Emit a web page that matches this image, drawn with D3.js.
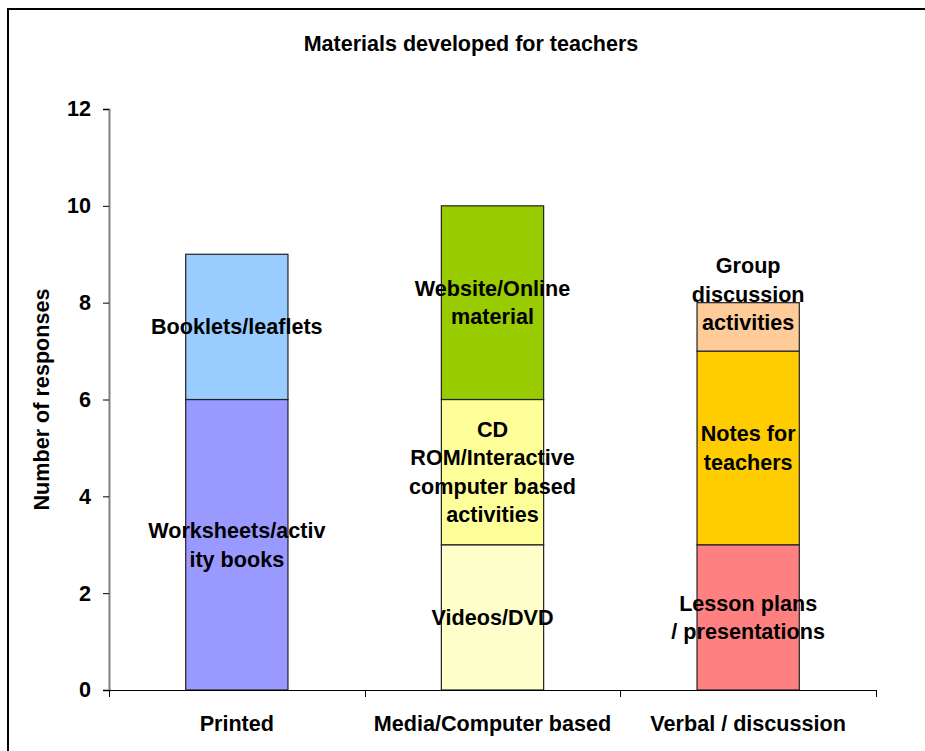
<!DOCTYPE html>
<html>
<head>
<meta charset="utf-8">
<script src="https://cdn.jsdelivr.net/npm/d3@7"></script>
<style>
  html, body { margin: 0; padding: 0; background: #fff; }
  svg { display: block; }
  text { font-family: "Liberation Sans", Arial, sans-serif; font-weight: bold; fill: #000; }
</style>
</head>
<body>
<svg id="chart" width="925" height="751"></svg>
<script>
// ---- data ----
const categories = ["Printed", "Media/Computer based", "Verbal / discussion"];
const yTicks = [0, 2, 4, 6, 8, 10, 12];
const title = "Materials developed for teachers";
const yTitle = "Number of responses";

// stacked segments per category, bottom to top
const printedValues = [6, 3];
const printedLabels = ["Worksheets/activ\nity books", "Booklets/leaflets"];
const printedColors = ["#9999FF", "#99CCFF"];

const mediaValues = [3, 3, 4];
const mediaLabels = ["Videos/DVD", "CD\nROM/Interactive\ncomputer based\nactivities", "Website/Online\nmaterial"];
const mediaColors = ["#FFFFCC", "#FFFF99", "#99CC00"];

const verbalValues = [3, 4, 1];
const verbalLabels = ["Lesson plans\n/ presentations", "Notes for\nteachers", "Group\ndiscussion\nactivities"];
const verbalColors = ["#FF8080", "#FFCC00", "#FFCC99"];

const groups = [
  { values: printedValues, labels: printedLabels, colors: printedColors },
  { values: mediaValues, labels: mediaLabels, colors: mediaColors },
  { values: verbalValues, labels: verbalLabels, colors: verbalColors }
];

// ---- layout ----
const svg = d3.select("#chart");
const plot = { left: 109, right: 876, top: 109, bottom: 690 };
const fs = 21.6, lineH = 28.5;

// frame
svg.append("rect").attr("x", 8).attr("y", 9).attr("width", 1000).attr("height", 1000)
  .attr("fill", "none").attr("stroke", "#000").attr("stroke-width", 2);

const x = d3.scaleBand().domain(categories).range([plot.left, plot.right])
  .paddingInner(0.6).paddingOuter(0.3);
const y = d3.scaleLinear().domain([0, 12]).range([plot.bottom, plot.top]);

// stack table
const keys = ["s0", "s1", "s2"];
const table = categories.map((c, i) => {
  const row = { cat: c };
  keys.forEach((k, j) => row[k] = groups[i].values[j] || 0);
  return row;
});
const stacked = d3.stack().keys(keys)(table);

// bars
stacked.forEach((layer, j) => {
  layer.forEach((d, i) => {
    if (d[1] - d[0] <= 0) return;
    svg.append("rect")
      .attr("x", x(d.data.cat))
      .attr("y", y(d[1]))
      .attr("width", x.bandwidth())
      .attr("height", y(d[0]) - y(d[1]))
      .attr("fill", groups[i].colors[j])
      .attr("stroke", "#222").attr("stroke-width", 1.2);
  });
});

// y axis
const yAxis = d3.axisLeft(y).tickValues(yTicks).tickSize(6).tickPadding(12);
const gy = svg.append("g").attr("transform", `translate(${plot.left},0)`).call(yAxis);
gy.select(".domain").attr("stroke", "#808080").attr("stroke-width", 2);
gy.selectAll(".tick line").attr("stroke", "#000");
gy.selectAll(".tick text").attr("font-size", fs).attr("font-family", "Liberation Sans, Arial, sans-serif")
  .attr("font-weight", "bold").attr("fill", "#000");

// x axis (category boundaries)
const gap = (x.step() - x.bandwidth()) / 2;
const bounds = categories.map(c => x(c) - gap).concat([plot.right]);
svg.append("line").attr("x1", plot.left - 6).attr("x2", plot.right)
  .attr("y1", plot.bottom + 0.5).attr("y2", plot.bottom + 0.5).attr("stroke", "#000");
bounds.forEach(b => {
  svg.append("line").attr("x1", Math.round(b) + 0.5).attr("x2", Math.round(b) + 0.5)
    .attr("y1", plot.bottom).attr("y2", plot.bottom + 7).attr("stroke", "#000");
});
categories.forEach(c => {
  svg.append("text").attr("x", x(c) + x.bandwidth() / 2).attr("y", 723)
    .attr("text-anchor", "middle").attr("dominant-baseline", "central")
    .attr("font-size", fs).text(c);
});

// segment labels
stacked.forEach((layer, j) => {
  layer.forEach((d, i) => {
    const lab = groups[i].labels[j];
    if (!lab) return;
    const lines = lab.split("\n");
    const segH = y(d[0]) - y(d[1]);
    const cy = (y(d[0]) + y(d[1])) / 2;
    const blockH = (lines.length - 1) * lineH;
    // if the text block is much taller than its segment, lift it so the last line sits just above the centre
    const firstY = (lines.length * lineH > segH + lineH) ? cy - blockH - 4 : cy - blockH / 2;
    const cx = x(d.data.cat) + x.bandwidth() / 2;
    lines.forEach((ln, k) => {
      svg.append("text").attr("x", cx).attr("y", firstY + k * lineH)
        .attr("text-anchor", "middle").attr("dominant-baseline", "central")
        .attr("font-size", fs).text(ln);
    });
  });
});

// title
svg.append("text").attr("x", 471).attr("y", 44).attr("text-anchor", "middle")
  .attr("dominant-baseline", "central").attr("font-size", 21.5).text(title);

// y title
svg.append("text").attr("transform", `translate(41,${(plot.top + plot.bottom) / 2}) rotate(-90)`)
  .attr("text-anchor", "middle").attr("dominant-baseline", "central")
  .attr("font-size", fs).text(yTitle);
</script>
</body>
</html>
